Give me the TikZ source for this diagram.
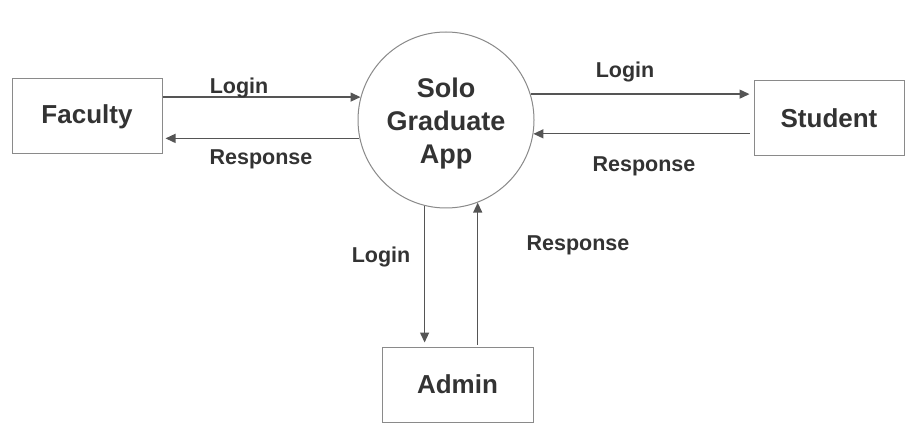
\documentclass[tikz,border=0pt]{standalone}
\usepackage{fontspec}
\setmainfont{Liberation Sans}
\usetikzlibrary{arrows.meta}
\definecolor{txt}{HTML}{333333}
\definecolor{ln}{HTML}{555555}
\definecolor{bd}{HTML}{8A8A8A}
\tikzset{
  box/.style={draw=bd, line width=1pt, minimum width=150pt, minimum height=75pt, inner sep=0pt,
    text=txt, font=\fontsize{26}{30}\selectfont\bfseries},
  proc/.style={draw=bd, line width=1pt, circle, minimum size=176pt, inner sep=0pt, text=txt,
    align=center, font=\fontsize{27}{33}\selectfont\bfseries},
  arr/.style={draw=ln, line width=1.3pt, -{Triangle[width=9pt,length=10pt]}},
  lbl/.style={text=txt, font=\fontsize{21.5}{24}\selectfont\bfseries, inner sep=0pt}
}
\begin{document}
\begin{tikzpicture}[x=1pt,y=-1pt]
\useasboundingbox[fill=white] (0,0) rectangle (917,435);
\node[box] (fac) at (87,116.5) {Faculty};
\node[box] (stu) at (829,118.5) {Student};
\node[box, minimum width=151pt] (adm) at (457.5,384.5) {Admin};
\node[proc] (app) at (446,120) {};
\node[proc, draw=none, minimum size=0pt] (apptxt) at (446,123.5) {Solo\\Graduate\\App};

\draw[arr] (fac.east |- app.165) -- (app.165);
\draw[arr, shorten >=3pt] (app.192) -- (app.192 -| fac.east);
\draw[arr, shorten >=4pt] (app.17) -- (app.17 -| stu.west);
\draw[arr, shorten <=4pt] (app.351 -| stu.west) -- (app.351);
\draw[arr, shorten >=4pt] (app.256) -- (app.256 |- adm.north);
\draw[arr, shorten <=2pt] (app.291 |- adm.north) -- (app.291);

\node[lbl] (l1) at (239,88) {Login};
\node[lbl] (r1) at (261,159) {Response};
\node[lbl] (l2) at (625,72) {Login};
\node[lbl] (r2) at (644,166) {Response};
\node[lbl] (l3) at (381,257) {Login};
\node[lbl] (r3) at (578,245) {Response};
\end{tikzpicture}
\end{document}
